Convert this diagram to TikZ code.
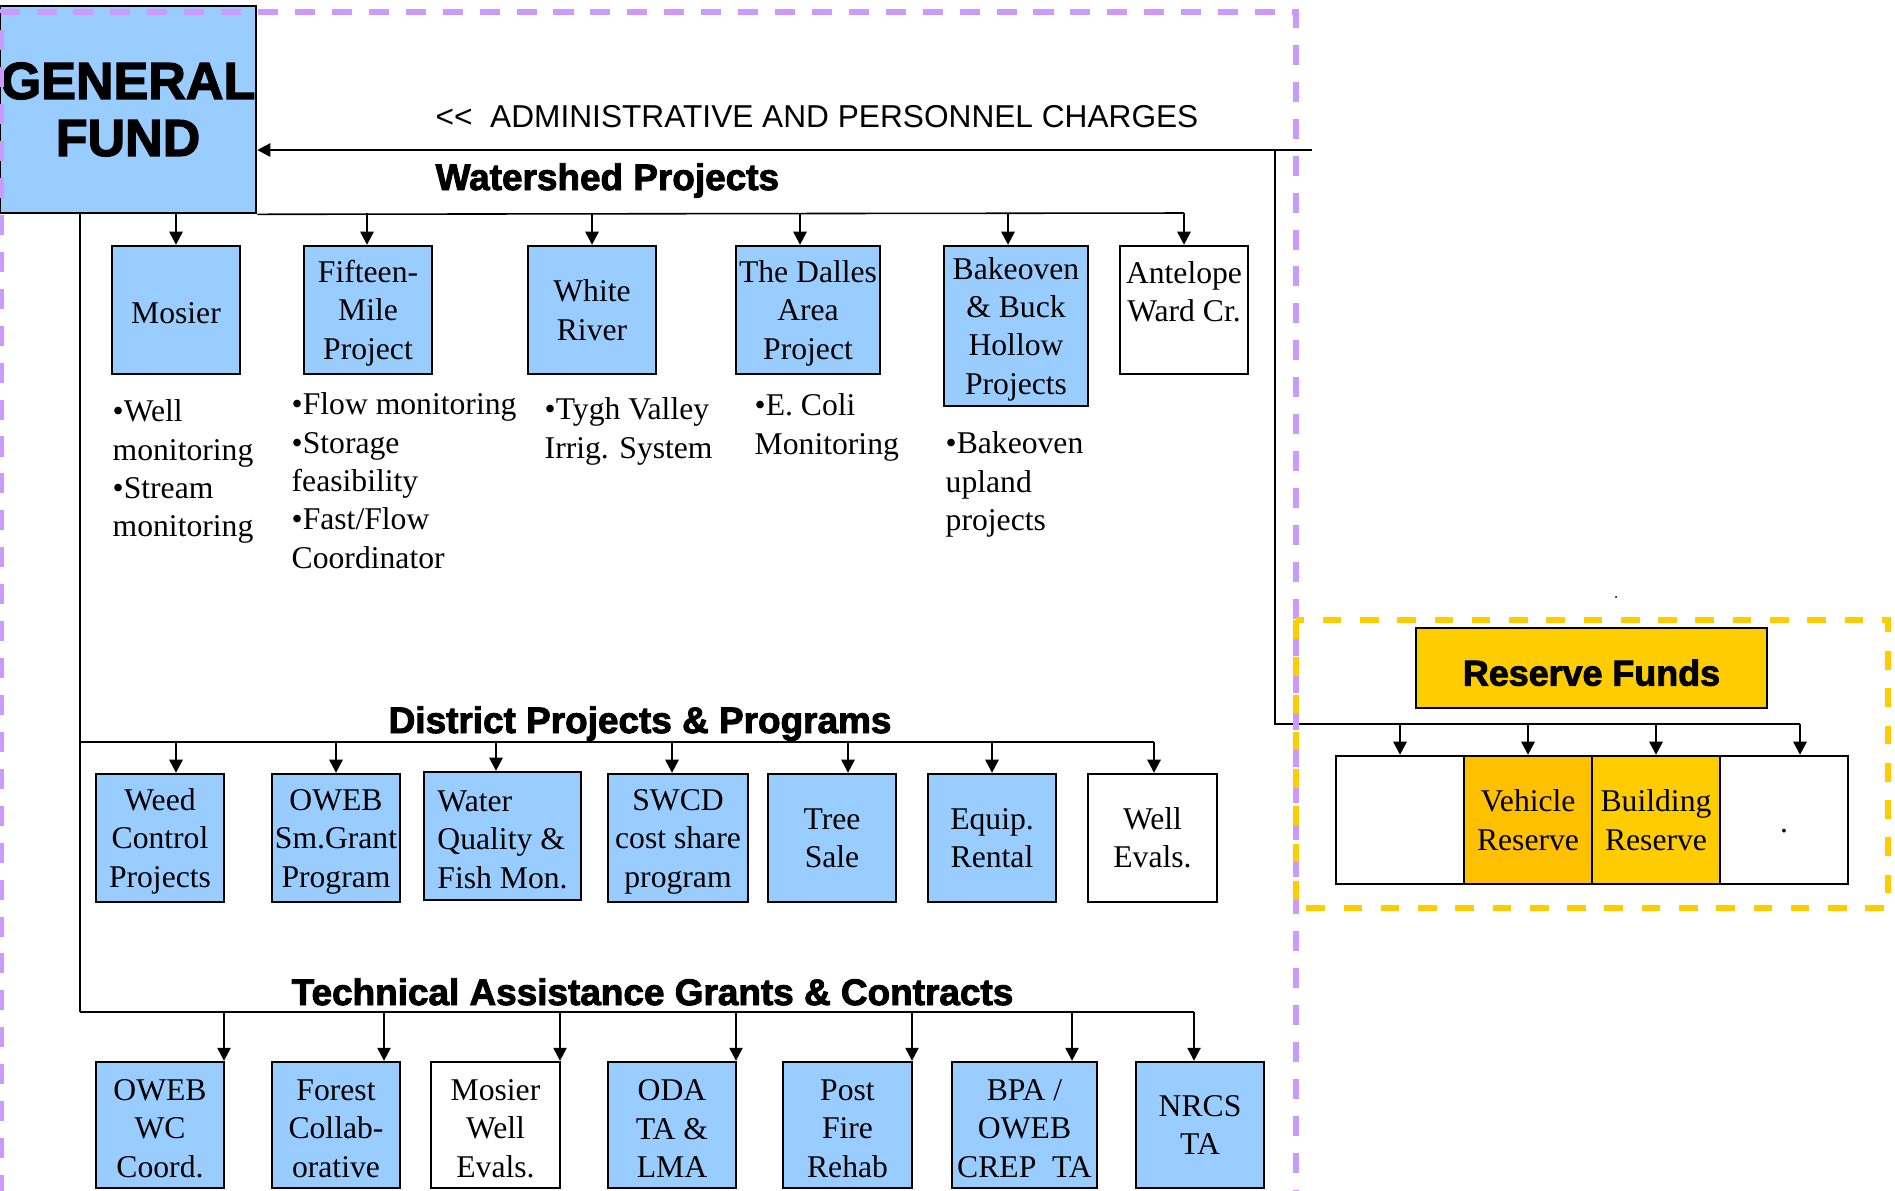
\documentclass[tikz,border=0pt]{standalone}
\usepackage{fontspec}
\setmainfont{Liberation Serif}
\newfontfamily\plainsans{Liberation Sans}
\newfontfamily\blackfont{Liberation Sans}[BoldFeatures={FakeBold=2.5}]
\usetikzlibrary{arrows.meta}

\definecolor{fundblue}{HTML}{99CCFF}
\definecolor{reservegold}{HTML}{FFCC00}
\definecolor{vehicleorange}{HTML}{FFC000}
\definecolor{edgepurple}{HTML}{CC99FF}

\newcommand\boxfont{\fontsize{9pt}{10.9pt}\selectfont}
\newcommand\headfont{\blackfont\bfseries\fontsize{10.5pt}{12pt}\selectfont}
% taller first line, pushes stacked labels down a touch
\newcommand\topline{\rule{0pt}{8pt}}

\tikzset{
  wire/.style={line width=0.45pt},
  feed/.style={wire, -{Triangle[length=3.7pt,width=3.8pt]}},
  fundbox/.style={draw, line width=0.7pt, fill=fundblue, inner sep=0pt, align=center, font=\boxfont,
                  execute at begin node={\rule{0pt}{7.5pt}}},
  plainbox/.style={fundbox, fill=white},
  sq/.style={minimum width=1.28cm, minimum height=1.28cm},
  notes/.style={anchor=north west, inner sep=0pt, align=left, font=\boxfont},
  heading/.style={anchor=base west, inner sep=0pt, font=\headfont},
}

\begin{document}
\begin{tikzpicture}[x=0.01cm, y=-0.01cm]
  \useasboundingbox (0,0) rectangle (1895,1190);

  % general fund, charges coming back in
  \node[fundbox, minimum width=2.56cm, minimum height=2.07cm, execute at begin node={},
        font=\blackfont\bfseries\fontsize{14.8pt}{16.2pt}\selectfont] (genfund) at (128,109.5) {GENERAL\\FUND};
  \coordinate (admin) at (1312,150);
  \coordinate (tap) at (1275,150);
  \draw[feed] (admin) -- (genfund.east |- admin);
  \node[anchor=base west, inner sep=0pt, font=\plainsans\fontsize{9pt}{10pt}\selectfont] (charges) at (435,127)
       {<<\ \ ADMINISTRATIVE AND PERSONNEL CHARGES};

  % bars
  \coordinate (wsbar) at (80,213);
  \coordinate (wsend) at (1184,213);
  \coordinate (dpbar) at (80,742);
  \coordinate (dpend) at (1154,742);
  \coordinate (tabar) at (80,1012);
  \coordinate (taend) at (1194,1012);
  \draw[wire] (genfund.south east) -- (wsend);
  \draw[wire] (wsbar) -- (tabar);
  \draw[wire] (dpbar) -- (dpend);
  \draw[wire] (tabar) -- (taend);

  % watershed projects
  \node[heading] (wshead) at (435,190) {Watershed Projects};
  \node[fundbox, sq] (mosier) at (176,310) {Mosier};
  \node[fundbox, sq] (fifteen) at (368,310) {\topline Fifteen-\\Mile\\Project};
  \node[fundbox, sq] (white) at (592,310) {White\\River};
  \node[fundbox, minimum width=1.44cm, minimum height=1.28cm] (dalles) at (808,310) {\topline The Dalles\\Area\\Project};
  \node[fundbox, minimum width=1.44cm, minimum height=1.6cm] (bakeoven) at (1016,326) {\topline Bakeoven\\\& Buck\\Hollow\\Projects};
  \node[plainbox, sq] (antelope) at (1184,310) {Antelope\\Ward Cr.\\[-3.5pt]\strut};
  \foreach \xx/\tgt in {176/mosier, 367/fifteen, 592/white, 800/dalles, 1008/bakeoven, 1184/antelope}
    \draw[feed] (\xx,0 |- wsbar) -- (\xx,0 |- \tgt.north);

  \node[notes] (mosiernotes) at (112,399) {•Well\\monitoring\\•Stream\\monitoring};
  \node[notes] (fifteennotes) at (291,392) {•Flow monitoring\\•Storage\\feasibility\\•Fast/Flow\\Coordinator};
  \node[notes] (whitenotes) at (544,397) {•Tygh Valley\\Irrig. System};
  \node[notes] (dallesnotes) at (754,393) {•E. Coli\\Monitoring};
  \node[notes] (bakenotes) at (945,431) {•Bakeoven\\upland\\projects};

  % district projects
  \node[heading] (dphead) at (388,733) {District Projects \& Programs};
  \node[fundbox, sq] (weed) at (160,838) {\topline Weed\\Control\\Projects};
  \node[fundbox, sq] (smgrant) at (336,838) {\topline OWEB\\Sm.Grant\\Program};
  \node[fundbox, minimum width=1.57cm, minimum height=1.28cm, align=left] (wq) at (502.5,836) {\topline Water\\Quality \&\\Fish Mon.};
  \node[fundbox, minimum width=1.4cm, minimum height=1.28cm] (swcd) at (678,838) {\topline SWCD\\cost share\\program};
  \node[fundbox, sq] (tree) at (832,838) {Tree\\Sale};
  \node[fundbox, sq] (equip) at (992,838) {Equip.\\Rental};
  \node[plainbox, minimum width=1.29cm, minimum height=1.28cm] (well) at (1152.5,838) {Well\\Evals.};
  \foreach \xx/\tgt in {176/weed, 336/smgrant, 496/wq, 672/swcd, 848/tree, 992/equip, 1154/well}
    \draw[feed] (\xx,0 |- dpbar) -- (\xx,0 |- \tgt.north);

  % technical assistance
  \node[heading] (tahead) at (291,1005) {Technical Assistance Grants \& Contracts};
  \node[fundbox, minimum width=1.28cm, minimum height=1.26cm] (wccoord) at (160,1125) {\topline OWEB\\WC\\Coord.};
  \node[fundbox, minimum width=1.28cm, minimum height=1.26cm] (forest) at (336,1125) {\topline Forest\\Collab-\\orative};
  \node[plainbox, minimum width=1.29cm, minimum height=1.26cm] (wellevals) at (495.5,1125) {\topline Mosier\\Well\\Evals.};
  \node[fundbox, minimum width=1.28cm, minimum height=1.26cm] (oda) at (672,1125) {\topline ODA\\TA \&\\LMA};
  \node[fundbox, minimum width=1.29cm, minimum height=1.26cm] (postfire) at (847.5,1125) {\topline Post\\Fire\\Rehab};
  \node[fundbox, minimum width=1.45cm, minimum height=1.26cm] (bpa) at (1024.5,1125) {\topline BPA /\\OWEB\\CREP\ \ TA};
  \node[fundbox, minimum width=1.28cm, minimum height=1.26cm] (nrcs) at (1200,1125) {NRCS\\TA};
  \foreach \xx/\tgt in {224/wccoord, 384/forest, 560/wellevals, 736/oda, 912/postfire, 1072/bpa, 1194/nrcs}
    \draw[feed] (\xx,0 |- tabar) -- (\xx,0 |- \tgt.north);

  % reserve funds
  \node[fundbox, fill=reservegold, minimum width=3.51cm, minimum height=0.8cm, execute at begin node={},
        text height=10pt, text depth=0pt,
        font=\blackfont\bfseries\fontsize{10.2pt}{12pt}\selectfont] (reserve) at (1591.5,668) {Reserve Funds};
  \node[plainbox, sq] (spare) at (1400,820) {};
  \node[fundbox, sq, fill=vehicleorange] (vehicle) at (1528,820) {Vehicle\\Reserve};
  \node[fundbox, sq, fill=reservegold] (building) at (1656,820) {Building\\Reserve};
  \node[plainbox, sq] (other) at (1784,820) {.};
  \coordinate (rsend) at (1800,724);
  \draw[wire] (tap) |- (rsend);
  \foreach \xx/\tgt in {1400/spare, 1528/vehicle, 1656/building, 1800/other}
    \draw[feed] (\xx,0 |- rsend) -- (\xx,0 |- \tgt.north);
  \fill (1616,597) circle (0.3pt);

  % dashed frames
  \draw[edgepurple, line width=1.6pt, dash pattern=on 5.7pt off 4.8pt] (1,1195) -- (1,12) -- (1296,12) -- (1296,1195);
  \draw[reservegold, line width=1.6pt, dash pattern=on 5.3pt off 5.3pt] (1296,620) rectangle (1888,908);
\end{tikzpicture}
\end{document}
